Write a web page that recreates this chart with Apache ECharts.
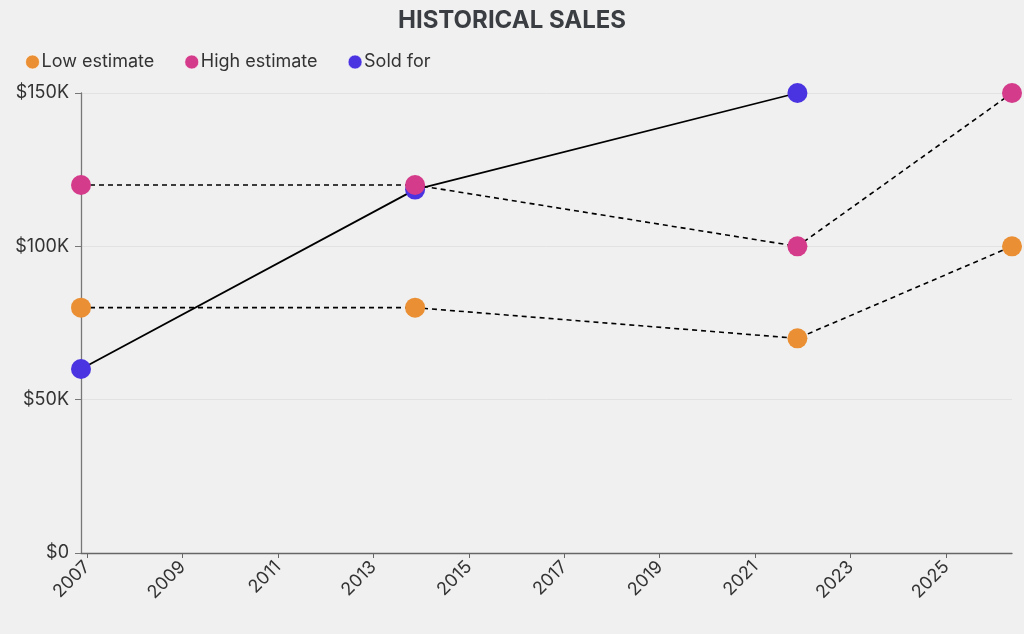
<!DOCTYPE html>
<html>
<head>
<meta charset="utf-8">
<script src="https://cdn.jsdelivr.net/npm/echarts@6/dist/echarts.min.js"></script>
<style>
html,body{margin:0;padding:0;background:#f0f0f0;}
#c{width:1024px;height:634px;}
</style>
</head>
<body>
<div id="c"></div>
<script>
const dates = ['2006-11-16', '2013-11-16', '2021-11-20', '2026-05-20'];
const lowEstimate = [80000, 80000, 70000, 100000];
const highEstimate = [120000, 120000, 100000, 150000];
const soldFor = [60000, 118500, 150000];
const tickYears = [2007, 2009, 2011, 2013, 2015, 2017, 2019, 2021, 2023, 2025];

// convert a date string to a decimal year so a value axis can place it
function decYear(s) {
  const d = new Date(s + 'T00:00:00Z');
  const y = d.getUTCFullYear();
  const a = Date.UTC(y, 0, 1), b = Date.UTC(y + 1, 0, 1);
  return y + (d.getTime() - a) / (b - a);
}
const xs = dates.map(decYear);
function pairs(ys) { return ys.map((v, i) => [xs[i], v]); }

const chart = echarts.init(document.getElementById('c'));
const FONT = 'Inter';
chart.setOption({
  backgroundColor: '#f0f0f0',
  animation: false,
  title: {
    text: 'HISTORICAL SALES', left: 'center', top: 4,
    textStyle: { fontFamily: FONT, fontSize: 24, fontWeight: 'bold', color: '#3a3e42' }
  },
  legend: {
    left: 20, top: 48, icon: 'circle', itemWidth: 14, itemHeight: 14, itemGap: 30,
    textStyle: { fontFamily: FONT, fontSize: 18, color: '#333', padding: [0, 0, 0, -3] },
    itemStyle: { borderColor: 'rgba(255,255,255,0.6)', borderWidth: 1 },
    data: ['Low estimate', 'High estimate', 'Sold for']
  },
  grid: { left: 81, right: 12, top: 93, bottom: 81, containLabel: false },
  xAxis: {
    type: 'value',
    min: xs[0], max: xs[xs.length - 1],
    axisLine: { lineStyle: { color: '#666', width: 1.3 } },
    axisTick: { show: true, length: 5, lineStyle: { color: '#666' }, customValues: tickYears },
    splitLine: { show: false },
    axisLabel: {
      rotate: 45, fontFamily: FONT, fontSize: 18, color: '#333', margin: 11,
      customValues: tickYears,
      hideOverlap: false, showMinLabel: true, showMaxLabel: true,
      formatter: function (v) { return String(Math.round(v)); }
    }
  },
  yAxis: {
    type: 'value', min: 0, max: 150000, interval: 50000,
    axisLine: { show: true, lineStyle: { color: '#777', width: 1.3 } },
    axisTick: { show: true, length: 6, lineStyle: { color: '#777' } },
    splitLine: { show: true, lineStyle: { color: '#e2e2e2' } },
    axisLabel: {
      fontFamily: FONT, fontSize: 18, color: '#333', margin: 12,
      formatter: function (v) { return v === 0 ? '$0' : '$' + (v / 1000) + 'K'; }
    }
  },
  series: [
    {
      name: 'Low estimate', type: 'line', data: pairs(lowEstimate),
      symbol: 'circle', symbolSize: 20, clip: false,
      itemStyle: { color: '#ea8f33' },
      lineStyle: { color: '#000', width: 1.6, type: [5, 4] }, z: 3
    },
    {
      name: 'High estimate', type: 'line', data: pairs(highEstimate),
      symbol: 'circle', symbolSize: 20, clip: false,
      itemStyle: { color: '#d43b8a' },
      lineStyle: { color: '#000', width: 1.6, type: [5, 4] }, z: 3
    },
    {
      name: 'Sold for', type: 'line', data: pairs(soldFor),
      symbol: 'circle', symbolSize: 20, clip: false,
      itemStyle: { color: '#4a33e0' },
      lineStyle: { color: '#000', width: 1.8 }, z: 2
    }
  ]
});
</script>
</body>
</html>
